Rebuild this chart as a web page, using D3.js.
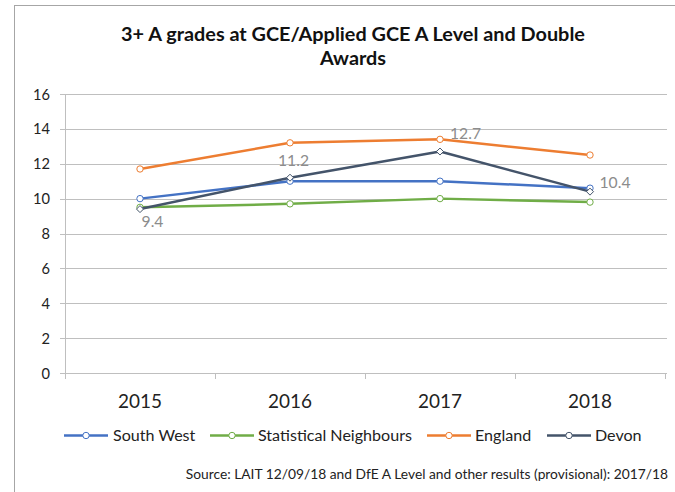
<!DOCTYPE html>
<html>
<head>
<style>
  body { margin: 0; background: #fff; }
  svg { font-family: Lato, "Open Sans", "Liberation Sans", sans-serif; }
  .grid line { stroke: #bfbfbf; }
</style>
<script src="https://d3js.org/d3.v7.min.js"></script>
</head>
<body>
<svg id="chart" width="675" height="492"></svg>
<script>
// values
const years = ['2015', '2016', '2017', '2018'];
const southWest = [10.0, 11.0, 11.0, 10.6];
const statNeighbours = [9.5, 9.7, 10.0, 9.8];
const england = [11.7, 13.2, 13.4, 12.5];
const devon = [9.4, 11.2, 12.7, 10.4];
const yTicks = [0, 2, 4, 6, 8, 10, 12, 14, 16];

const series = [
  { name: 'South West', values: southWest, color: '#4472C4', marker: 'circle' },
  { name: 'Statistical Neighbours', values: statNeighbours, color: '#70AD47', marker: 'circle' },
  { name: 'England', values: england, color: '#ED7D31', marker: 'circle' },
  { name: 'Devon', values: devon, color: '#44546A', marker: 'diamond' }
];

const svg = d3.select('#chart');

// scale a text's font so that it takes the given width, returns the size
function fitSize(sel, width) {
  const size = parseFloat(sel.style('font-size'));
  const w = sel.node().getComputedTextLength();
  const s = size * width / w;
  sel.style('font-size', s + 'px');
  return s;
}

// chart border
svg.append('rect')
  .attr('x', 14.5).attr('y', 5.5)
  .attr('width', 680).attr('height', 500)
  .attr('fill', 'none').attr('stroke', '#a6a6a6');

// title
const t1 = svg.append('text')
  .attr('x', 353).attr('y', 41)
  .attr('text-anchor', 'middle')
  .style('font-size', '18px').style('font-weight', 'bold').attr('fill', '#111')
  .text('3+ A grades at GCE/Applied GCE A Level and Double');
const titleSize = fitSize(t1, 464);
svg.append('text')
  .attr('x', 353).attr('y', 65)
  .attr('text-anchor', 'middle')
  .style('font-size', titleSize + 'px').style('font-weight', 'bold').attr('fill', '#111')
  .text('Awards');

const plotLeft = 65, plotRight = 665, plotTop = 94, plotBottom = 373;

const x = d3.scaleBand().domain(years).range([plotLeft, plotRight]);
const y = d3.scaleLinear().domain([0, 16]).range([plotBottom, plotTop]);

// gridlines
svg.append('g').attr('class', 'grid')
  .selectAll('line')
  .data(yTicks)
  .enter()
  .append('line')
  .attr('x1', plotLeft - 5).attr('x2', plotRight + 2)
  .attr('y1', d => Math.round(y(d)) + 0.5)
  .attr('y2', d => Math.round(y(d)) + 0.5);

// y axis line
svg.append('line')
  .attr('x1', plotLeft + 0.5).attr('x2', plotLeft + 0.5)
  .attr('y1', plotTop).attr('y2', plotBottom + 6)
  .attr('stroke', '#bfbfbf');

// y labels
const yLab = svg.append('g')
  .selectAll('text')
  .data(yTicks)
  .enter()
  .append('text')
  .attr('x', 50).attr('y', d => y(d) + 5.5)
  .attr('text-anchor', 'end')
  .style('font-size', '15px').attr('fill', '#222')
  .text(d => d);
const ySize = fitSize(yLab.filter(d => d === 16), 17);
yLab.style('font-size', ySize + 'px');

// x ticks between categories
svg.append('g')
  .selectAll('line')
  .data(years.slice(1))
  .enter()
  .append('line')
  .attr('x1', d => Math.round(x(d)) + 0.5).attr('x2', d => Math.round(x(d)) + 0.5)
  .attr('y1', plotBottom).attr('y2', plotBottom + 6)
  .attr('stroke', '#bfbfbf');
svg.append('line')
  .attr('x1', plotRight + 0.5).attr('x2', plotRight + 0.5)
  .attr('y1', plotBottom).attr('y2', plotBottom + 6)
  .attr('stroke', '#bfbfbf');

// x labels
const xLab = svg.append('g')
  .selectAll('text')
  .data(years)
  .enter()
  .append('text')
  .attr('x', d => x(d) + x.bandwidth() / 2)
  .attr('y', 408)
  .attr('text-anchor', 'middle')
  .style('font-size', '19px').attr('fill', '#222')
  .text(d => d);
const xSize = fitSize(xLab.filter(d => d === '2015'), 44);
xLab.style('font-size', xSize + 'px');

const cx = i => x(years[i]) + x.bandwidth() / 2;
const line = d3.line().x((d, i) => cx(i)).y(d => y(d));

function drawMarker(g, type, px, py, color) {
  if (type === 'diamond') {
    g.append('path')
      .attr('d', `M${px},${py - 3.5}L${px + 3.5},${py}L${px},${py + 3.5}L${px - 3.5},${py}Z`)
      .attr('fill', '#fff').attr('stroke', color).attr('stroke-width', 1);
  } else {
    g.append('circle')
      .attr('cx', px).attr('cy', py).attr('r', 3.2)
      .attr('fill', '#fff').attr('stroke', color).attr('stroke-width', 1);
  }
}

series.forEach(s => {
  const g = svg.append('g');
  g.append('path')
    .attr('d', line(s.values))
    .attr('fill', 'none')
    .attr('stroke', s.color)
    .attr('stroke-width', 2.5)
    .attr('stroke-linejoin', 'round');
  s.values.forEach((v, i) => drawMarker(g, s.marker, cx(i), y(v), s.color));
});

// Devon data labels
const labelOffsets = [[12.5, 17.5], [3.5, -12], [25.5, -13], [25, -3.5]];
const dLab = svg.append('g')
  .selectAll('text')
  .data(devon)
  .enter()
  .append('text')
  .attr('x', (d, i) => cx(i) + labelOffsets[i][0])
  .attr('y', (d, i) => y(d) + labelOffsets[i][1])
  .attr('text-anchor', 'middle')
  .style('font-size', '16px').attr('fill', '#8c8c8c')
  .text(d => d.toFixed(1));
const dSize = fitSize(dLab.filter((d, i) => i === 1), 31);
dLab.style('font-size', dSize + 'px');

// legend
const legendX = [64, 210, 427, 547];
const legendTextX = [113, 258, 475, 595];
const legend = svg.append('g');
const legendTexts = [];
series.forEach((s, i) => {
  const lx = legendX[i], ly = 435.5;
  legend.append('line')
    .attr('x1', lx).attr('x2', lx + 44)
    .attr('y1', ly).attr('y2', ly)
    .attr('stroke', s.color).attr('stroke-width', 2.5);
  drawMarker(legend, 'circle', lx + 22, ly, s.color);
  legendTexts.push(legend.append('text')
    .attr('x', legendTextX[i]).attr('y', 440.5)
    .style('font-size', '15px').attr('fill', '#222')
    .text(s.name));
});
const lSize = fitSize(legendTexts[1], 154);
legendTexts.forEach(t => t.style('font-size', lSize + 'px'));

// source note
const src = svg.append('text')
  .attr('x', 668).attr('y', 479)
  .attr('text-anchor', 'end')
  .style('font-size', '13px').attr('fill', '#222')
  .text('Source: LAIT 12/09/18  and DfE A Level and other results (provisional): 2017/18');
fitSize(src, 483);
</script>
</body>
</html>
